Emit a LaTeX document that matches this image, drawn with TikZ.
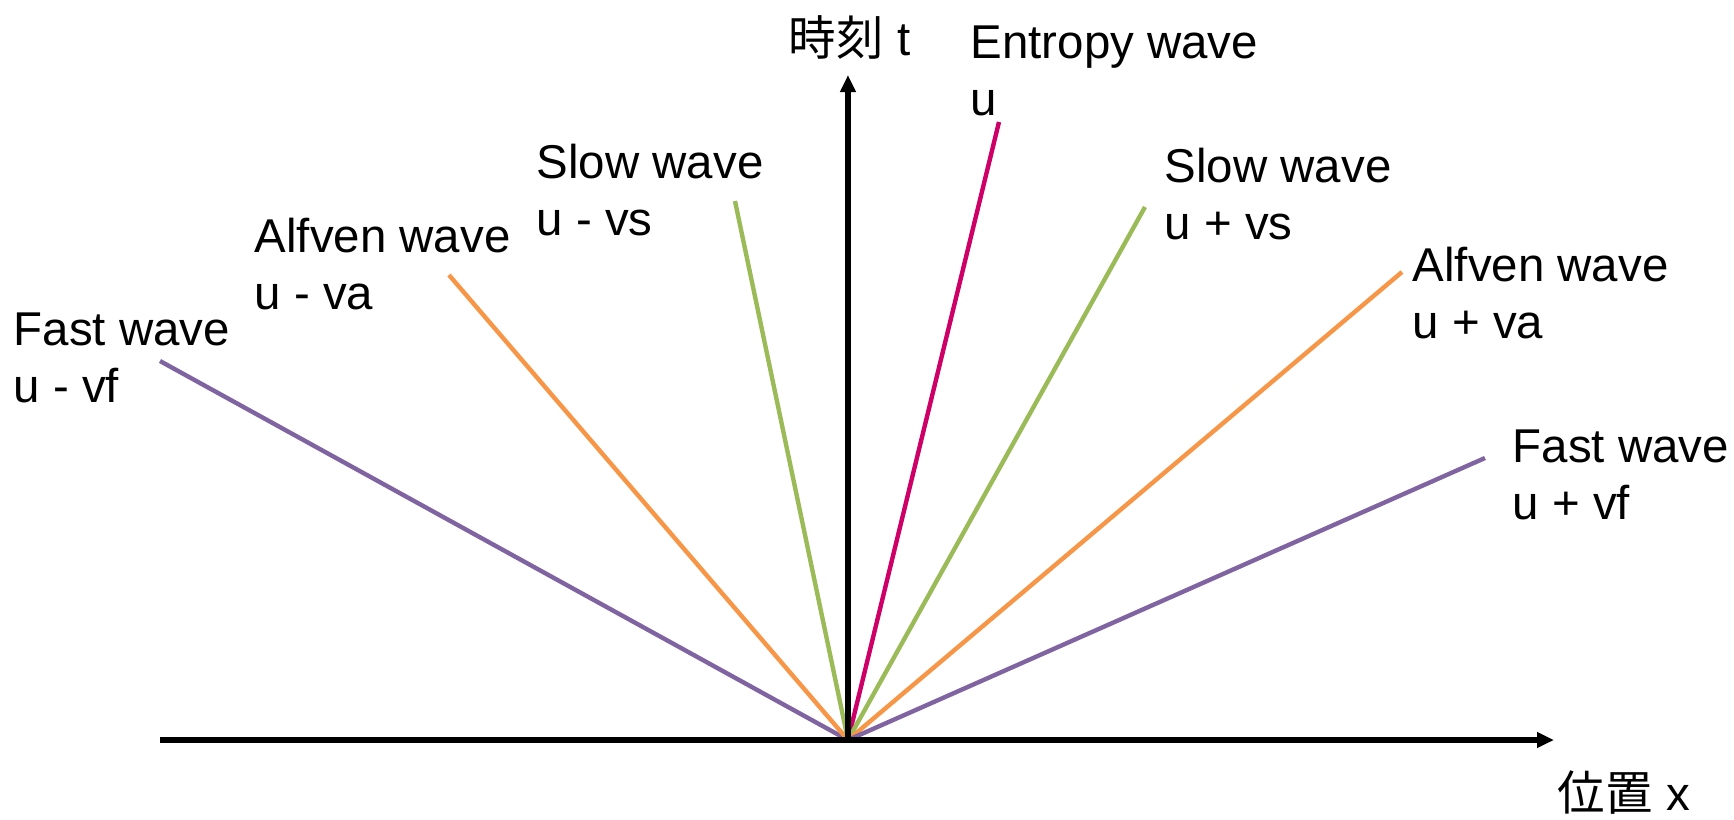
\documentclass[tikz,border=0pt]{standalone}
\usepackage{fontspec}
\setmainfont{Liberation Sans}
\newfontfamily\cjk{Noto Sans CJK JP}
\usetikzlibrary{arrows.meta}
\definecolor{fastc}{HTML}{8064A2}
\definecolor{alfvenc}{HTML}{F79646}
\definecolor{slowc}{HTML}{9BBB59}
\definecolor{entropyc}{HTML}{CC0066}
\tikzset{
    axis/.style={line width=1.6pt, -{Triangle[length=0.17cm,width=0.15cm]}},
    wave/.style={line width=1.25pt},
    lbl/.style={inner sep=0pt, align=left, anchor=west, font=\fontsize{13.5}{16.3}\selectfont},
    axlbl/.style={inner sep=0pt, font=\fontsize{13.5}{16.3}\selectfont}
}
\begin{document}
\begin{tikzpicture}
    \useasboundingbox (-8.48,-0.79) rectangle (8.86,7.40);
    \coordinate (O) at (0,0);
    % Characteristic ends
    \coordinate (fastL) at (-6.88,3.79);
    \coordinate (alfL) at (-3.99,4.65);
    \coordinate (slowL) at (-1.13,5.39);
    \coordinate (ent) at (1.51,6.18);
    \coordinate (slowR) at (2.97,5.33);
    \coordinate (alfR) at (5.54,4.68);
    \coordinate (fastR) at (6.37,2.82);
    % Waves
    \draw[wave, fastc] (O) -- (fastL);
    \draw[wave, alfvenc] (O) -- (alfL);
    \draw[wave, slowc] (O) -- (slowL);
    \draw[wave, entropyc] (O) -- (ent);
    \draw[wave, slowc] (O) -- (slowR);
    \draw[wave, alfvenc] (O) -- (alfR);
    \draw[wave, fastc] (O) -- (fastR);
    % Axes
    \coordinate (xstart) at (-6.88,0);
    \coordinate (xend) at (7.06,0);
    \coordinate (tend) at (0,6.65);
    \draw[axis] (xstart) -- (xend);
    \draw[axis] (O) -- (tend);
    \node[axlbl] (tlabel) at (0.02,7.03) {{\cjk 時刻}\hspace{0.14cm}t};
    \node[axlbl] (xlabel) at (7.76,-0.53) {{\cjk 位置}\hspace{0.14cm}x};
    % Labels
    \node[lbl] (fastLlbl) at (-8.35,3.82) {Fast wave\\u - vf};
    \node[lbl] (alfLlbl) at (-5.94,4.76) {Alfven wave\\u - va};
    \node[lbl] (slowLlbl) at (-3.12,5.50) {Slow wave\\u - vs};
    \node[lbl] (entlbl) at (1.22,6.69) {Entropy wave\\u};
    \node[lbl] (slowRlbl) at (3.16,5.46) {Slow wave\\u + vs};
    \node[lbl] (alfRlbl) at (5.64,4.47) {Alfven wave\\u + va};
    \node[lbl] (fastRlbl) at (6.64,2.65) {Fast wave\\u + vf};
\end{tikzpicture}
\end{document}
